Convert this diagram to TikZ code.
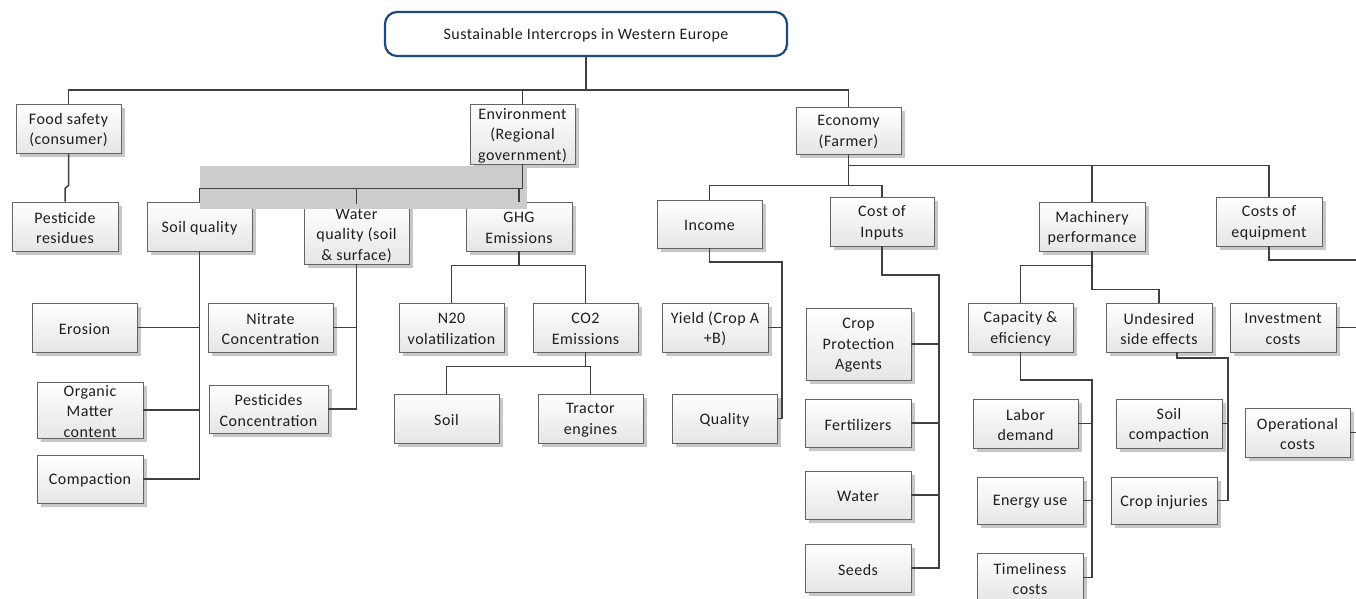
\documentclass[tikz,border=0pt]{standalone}
\usepackage{fontspec}
\setmainfont{Carlito}[LetterSpace=3]
\usetikzlibrary{shadows,calc}

\definecolor{wirec}{RGB}{64,64,64}
\definecolor{framec}{RGB}{100,100,100}
\definecolor{titlec}{RGB}{31,73,125}
\definecolor{bandc}{RGB}{204,204,204}
\definecolor{inkc}{RGB}{30,30,30}

\tikzset{
  box/.style={draw=framec, line width=0.8pt, top color=white, bottom color=black!10,
    drop shadow={shadow xshift=4pt, shadow yshift=-4pt, fill=black!22, opacity=1},
    inner sep=0pt},
  lbl/.style={align=center, text=inkc, font=\fontsize{16}{20.5}\selectfont, inner sep=0pt},
  wire/.style={draw=wirec, line width=1.5pt},
  headbox/.style={draw=titlec, line width=2.2pt, rounded corners=12pt, fill=white, inner sep=0pt}
}

% \treebox{name}{x1}{y1}{x2}{y2}{text}: shaded box with centred text
\newcommand\treebox[6]{%
  \node[box, minimum width={(#4-#2)*1pt}, minimum height={(#5-#3)*1pt}]
    (#1) at ({(#2+#4)/2},{(#3+#5)/2}) {};
  \node[lbl] (#1-t) at ([yshift=-1.5pt]#1.center) {#6};}

\begin{document}
\begin{tikzpicture}[x=1pt,y=-1pt]
\useasboundingbox (0,0) rectangle (1356,598);
\fill[white] (0,0) rectangle (1356,598);
\clip (0,0) rectangle (1356,598);

% root
\node[headbox, minimum width=402pt, minimum height=44pt] (title) at (586,34) {};
\node[lbl] (title-t) at ([yshift=-1.5pt]title.center) {Sustainable Intercrops in Western Europe};

% first level
\treebox{food}{16}{104}{121}{153}{Food safety\\(consumer)}
\treebox{env}{470}{104}{575}{164}{Environment\\(Regional\\government)}
\treebox{econ}{796}{107}{901}{154}{Economy\\(Farmer)}

% food safety branch
\treebox{pest}{12}{202}{118}{251}{Pesticide\\residues}

% environment branch
\treebox{soil}{147}{202}{252}{251}{Soil quality}
\treebox{water}{304}{204}{409}{264}{Water\\quality (soil\\\& surface)}
\treebox{ghg}{466}{202}{572}{251}{GHG\\Emissions}
\treebox{ero}{32}{303}{137}{352}{Erosion}
\treebox{org}{37}{382}{143}{438}{Organic\\Matter\\content}
\treebox{comp}{37}{455}{143}{503}{Compaction}
\treebox{nit}{208}{303}{333}{352}{Nitrate\\Concentration}
\treebox{pestc}{209}{385}{328}{433}{Pesticides\\Concentration}
\treebox{n2o}{399}{303}{504}{352}{N20\\volatilization}
\treebox{co2}{533}{303}{638}{352}{CO2\\Emissions}
\treebox{soilg}{394}{394}{499}{443}{Soil}
\treebox{tract}{538}{394}{643}{443}{Tractor\\engines}

% economy branch
\treebox{inc}{657}{200}{762}{248}{Income}
\treebox{coi}{830}{197}{934}{246}{Cost of\\Inputs}
\treebox{yield}{662}{303}{768}{352}{Yield (Crop A\\+B)}
\treebox{qual}{672}{394}{777}{443}{Quality}
\treebox{cpa}{806}{308}{911}{380}{Crop\\Protection\\Agents}
\treebox{fert}{805}{399}{911}{447}{Fertilizers}
\treebox{wat}{805}{471}{911}{519}{Water}
\treebox{seeds}{805}{544}{911}{592}{Seeds}
\treebox{mach}{1039}{202}{1145}{251}{Machinery\\performance}
\treebox{coe}{1216}{197}{1322}{246}{Costs of\\equipment}
\treebox{cap}{968}{303}{1073}{352}{Capacity \&\\eficiency}
\treebox{und}{1106}{303}{1212}{352}{Undesired\\side effects}
\treebox{inv}{1230}{303}{1336}{352}{Investment\\costs}
\treebox{labor}{973}{399}{1078}{448}{Labor\\demand}
\treebox{energy}{977}{477}{1083}{524}{Energy use}
\treebox{time}{977}{553}{1083}{602}{Timeliness\\costs}
\treebox{soilc}{1116}{399}{1222}{448}{Soil\\compaction}
\treebox{crop}{1111}{477}{1217}{524}{Crop injuries}
\treebox{oper}{1245}{408}{1350}{457}{Operational\\costs}

% grey band over the environment fan-out
\fill[bandc] (200,166) rectangle (527,209);

% connectors: root
\draw[wire] (title.south) -- ++(0,33) -| (food.north);
\draw[wire] (title.south) ++(0,33) -| (env.north);
\draw[wire] (title.south) ++(0,33) -| (econ.north);

% food safety
\draw[wire] (food.south) -- ++(0,32) -- ++(-3.5,3) -- (pest.north);

% environment
\draw[wire] (env.south) -- ++(0,24) -| (soil.north);
\draw[wire] (env.south) ++(0,24) -| (water.north);
\draw[wire] (env.south) ++(0,24) -| (ghg.north);
\draw[wire] (soil.south) |- (comp.east);
\draw[wire] (ero.east) -| (soil.south);
\draw[wire] (org.east) -| (soil.south);
\draw[wire] (water.south) |- (pestc.east);
\draw[wire] (nit.east) -| (water.south);
\draw[wire] (ghg.south) -- ++(0,14) -| (n2o.north);
\draw[wire] (ghg.south) ++(0,14) -| (co2.north);
\draw[wire] (co2.south) -- ++(0,14) -| (soilg.north);
\draw[wire] (co2.south) ++(0,14) -| (tract.north);

% economy
\draw[wire] (econ.south) -- ++(0,11) -| (mach.north);
\draw[wire] (econ.south) ++(0,11) -| (coe.north);
\draw[wire] (econ.south) -- ++(0,31) -| (inc.north);
\draw[wire] (econ.south) ++(0,31) -| (coi.north);

\coordinate (incbus) at (782,262);
\draw[wire] (inc.south) |- (incbus) |- (qual.east);
\draw[wire] (yield.east) -- (yield.east -| incbus);

\coordinate (coibus) at (939,275);
\draw[wire] (coi.south) |- (coibus) |- (seeds.east);
\draw[wire] (cpa.east) -- (cpa.east -| coibus);
\draw[wire] (fert.east) -- (fert.east -| coibus);
\draw[wire] (wat.east) -- (wat.east -| coibus);

\draw[wire] (mach.south) -- ++(0,14) -| (cap.north);
\draw[wire] (mach.south) -- ++(0,38) -| (und.north);

\coordinate (capbus) at (1092,380);
\draw[wire] (cap.south) |- (capbus) |- (time.east);
\draw[wire] (labor.east) -- (labor.east -| capbus);
\draw[wire] (energy.east) -- (energy.east -| capbus);

\coordinate (undbus) at (1228,358);
\draw[wire] ($(und.south)+(18,0)$) |- (undbus) |- (crop.east);
\draw[wire] (soilc.east) -- (soilc.east -| undbus);

\coordinate (coebus) at (1366,260);
\draw[wire] (coe.south) |- (coebus) |- (oper.east);
\draw[wire] (inv.east) -- (inv.east -| coebus);
\end{tikzpicture}
\end{document}
